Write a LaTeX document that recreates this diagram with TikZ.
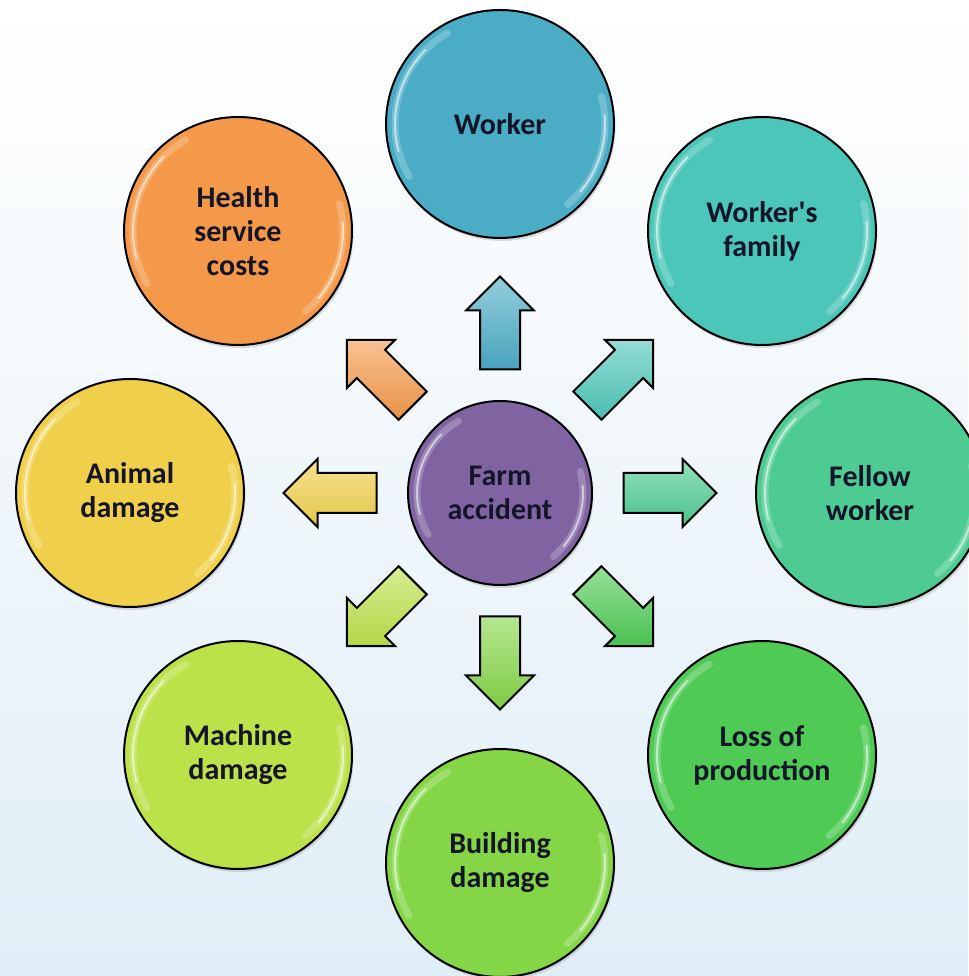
\documentclass[tikz,border=0pt]{standalone}
\usepackage{fontspec}
\setmainfont{Carlito}
\usetikzlibrary{shapes.arrows,shadows,calc}

\definecolor{cWorker}{HTML}{4BACC6}
\definecolor{cFamily}{HTML}{4CC6B8}
\definecolor{cFellow}{HTML}{4DCB92}
\definecolor{cLoss}{HTML}{4FCB55}
\definecolor{cBuild}{HTML}{84D647}
\definecolor{cMach}{HTML}{BCE24A}
\definecolor{cAnim}{HTML}{F0D04A}
\definecolor{cHealth}{HTML}{F4994A}
\definecolor{cFarm}{HTML}{8064A2}
\definecolor{txt}{HTML}{15152A}
\definecolor{bgbot}{HTML}{E0EEF7}

\tikzset{
  bubble/.style={circle, draw=black, line width=2pt, minimum size=228pt, inner sep=0pt,
    font=\fontsize{30}{34}\selectfont\bfseries, text=txt, align=center, fill=#1,
    drop shadow={shadow xshift=1.5pt, shadow yshift=-3pt, opacity=0.25}},
  hub/.style={bubble=#1, minimum size=184pt},
  blockarrow/.style={single arrow, draw=black, line width=2pt, minimum height=93pt,
    inner xsep=0pt, inner ysep=19pt, single arrow head extend=14pt,
    top color=#1!60!white, bottom color=#1!95!black},
  glosswide/.style={white, opacity=0.22, line width=7pt, line cap=round},
  glossthin/.style={white, opacity=0.55, line width=2pt, line cap=round},
}
\newcommand\glossy[2]{%
  \draw[glosswide] ([shift={(120:#2)}]#1.center) arc[start angle=120,end angle=210,radius=#2];
  \draw[glossthin] ([shift={(135:#2)}]#1.center) arc[start angle=135,end angle=195,radius=#2];
  \draw[glosswide] ([shift={(-50:#2)}]#1.center) arc[start angle=-50,end angle=15,radius=#2];
  \draw[glossthin] ([shift={(-40:#2)}]#1.center) arc[start angle=-40,end angle=5,radius=#2];}

\begin{document}
\begin{tikzpicture}[x=1pt,y=1pt]
\shade[top color=white, bottom color=bgbot] (0,0) rectangle (968,976);
\useasboundingbox (0,0) rectangle (968,976);

\node[hub=cFarm] (farm) at (500,483) {Farm\\accident};
\node[bubble=cWorker] (worker) at (500,852) {Worker};
\node[bubble=cFamily] (family) at (762,745) {Worker\textquotesingle s\\family};
\node[bubble=cFellow] (fellow) at (870,483) {Fellow\\worker};
\node[bubble=cLoss] (loss) at (762,221) {Loss of\\production};
\node[bubble=cBuild] (build) at (500,113) {Building\\damage};
\node[bubble=cMach] (mach) at (238,221) {Machine\\damage};
\node[bubble=cAnim] (anim) at (130,483) {Animal\\damage};
\node[bubble=cHealth] (health) at (238,745) {Health\\service\\costs};

\glossy{farm}{83}
\foreach \n in {worker,family,fellow,loss,build,mach,anim,health}{\glossy{\n}{105}}

\node[blockarrow=cWorker, rotate=90] (aworker) at ($(farm)!160pt!(worker)$) {};
\node[blockarrow=cFamily, rotate=45] (afamily) at ($(farm)!160pt!(family)$) {};
\node[blockarrow=cFellow, rotate=0] (afellow) at ($(farm)!160pt!(fellow)$) {};
\node[blockarrow=cLoss, rotate=-45] (aloss) at ($(farm)!160pt!(loss)$) {};
\node[blockarrow=cBuild, rotate=-90] (abuild) at ($(farm)!160pt!(build)$) {};
\node[blockarrow=cMach, rotate=-135] (amach) at ($(farm)!160pt!(mach)$) {};
\node[blockarrow=cAnim, rotate=180] (aanim) at ($(farm)!160pt!(anim)$) {};
\node[blockarrow=cHealth, rotate=135] (ahealth) at ($(farm)!160pt!(health)$) {};
\end{tikzpicture}
\end{document}
